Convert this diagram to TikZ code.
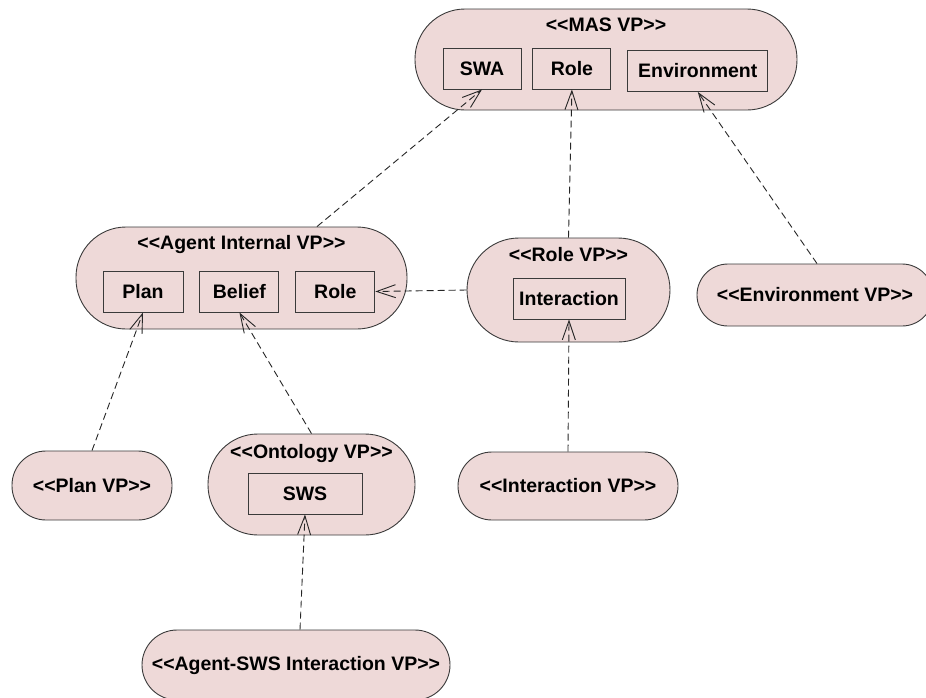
\documentclass[tikz,border=0pt]{standalone}
\usepackage{fontspec}
\setmainfont{Liberation Sans}
\usetikzlibrary{positioning, arrows.meta}

\definecolor{vpfill}{HTML}{EED9D8}
\definecolor{vpline}{HTML}{3A3A3A}

\newcommand{\vpfont}{\bfseries\fontsize{19.5}{22}\selectfont}
\newcommand{\stereo}[1]{<\kern0pt<#1>\kern0pt>}

\tikzset{
  vp/.style={rectangle, draw=vpline, fill=vpfill, line width=0.9pt,
             rounded corners=#1, font=\vpfont},
  part/.style={rectangle, draw=vpline, line width=0.9pt,
               minimum height=41pt, inner sep=0pt, font=\vpfont},
  vptitle/.style={inner sep=0pt, font=\vpfont},
  dep/.style={draw=black!85, line width=0.9pt, dash pattern=on 7pt off 4pt,
              -{Straight Barb[length=19pt, width=13pt]}},
}

\begin{document}
\begin{tikzpicture}[x=1pt, y=-1pt]

  \clip (0,0) rectangle (926,697);

  % MAS VP
  \node[vp=50pt, minimum width=382pt, minimum height=101pt] (mas) at (606,59.5) {};
  \node[vptitle, below=9pt of mas.north] (mastitle) {\stereo{MAS VP}};
  \node[part, minimum width=78pt, right=28pt of mas.west, yshift=-9pt] (swa) {SWA};
  \node[part, minimum width=78pt, right=11pt of swa] (masrole) {Role};
  \node[part, minimum width=140pt, right=16pt of masrole, yshift=-2.5pt] (masenv) {Environment};

  % Agent Internal VP
  \node[vp=50pt, minimum width=331pt, minimum height=102pt] (agent) at (241.5,278) {};
  \node[vptitle, below=9pt of agent.north] (agenttitle) {\stereo{Agent Internal VP}};
  \node[part, minimum width=80pt, right=27pt of agent.west, yshift=-13.5pt] (plan) {Plan};
  \node[part, minimum width=79pt, right=16pt of plan] (belief) {Belief};
  \node[part, minimum width=79pt, right=16pt of belief] (agentrole) {Role};

  % Role VP
  \node[vp=52pt, minimum width=203pt, minimum height=104pt] (rolevp) at (568.5,290) {};
  \node[vptitle, below=10pt of rolevp.north] (roletitle) {\stereo{Role VP}};
  \node[part, minimum width=112pt, right=46pt of rolevp.west, yshift=-8.5pt] (interaction) {Interaction};

  \node[vp=31pt, minimum width=236pt, minimum height=62pt] (envvp) at (815,295) {\stereo{Environment VP}};

  % lower row
  \node[vp=34pt, minimum width=160pt, minimum height=69pt] (planvp) at (92,485.5) {\stereo{Plan VP}};

  \node[vp=50pt, minimum width=207pt, minimum height=101pt] (ontology) at (311.5,484.5) {};
  \node[vptitle, below=11pt of ontology.north] (ontotitle) {\stereo{Ontology VP}};
  \node[part, minimum width=114pt, right=40pt of ontology.west, yshift=-9pt] (sws) {SWS};

  \node[vp=34pt, minimum width=220pt, minimum height=68pt] (interactionvp) at (568,486) {\stereo{Interaction VP}};

  \node[vp=35pt, minimum width=308pt, minimum height=70pt] (agentsws) at (296,665) {\stereo{Agent-SWS Interaction VP}};

  % dependencies
  \draw[dep] ([xshift=75.5pt]agent.north) -- (swa.south);
  \draw[dep] (rolevp.north) -- (masrole.south);
  \draw[dep] ([xshift=2pt]envvp.north) -- (masenv.south);
  \draw[dep] (rolevp.west) -- (agentrole.east);
  \draw[dep] (planvp.north) -- (plan.south);
  \draw[dep] (ontology.north) -- (belief.south);
  \draw[dep] (interactionvp.north) -- (interaction.south);
  \draw[dep] ([xshift=4pt]agentsws.north) -- (sws.south);

\end{tikzpicture}
\end{document}
